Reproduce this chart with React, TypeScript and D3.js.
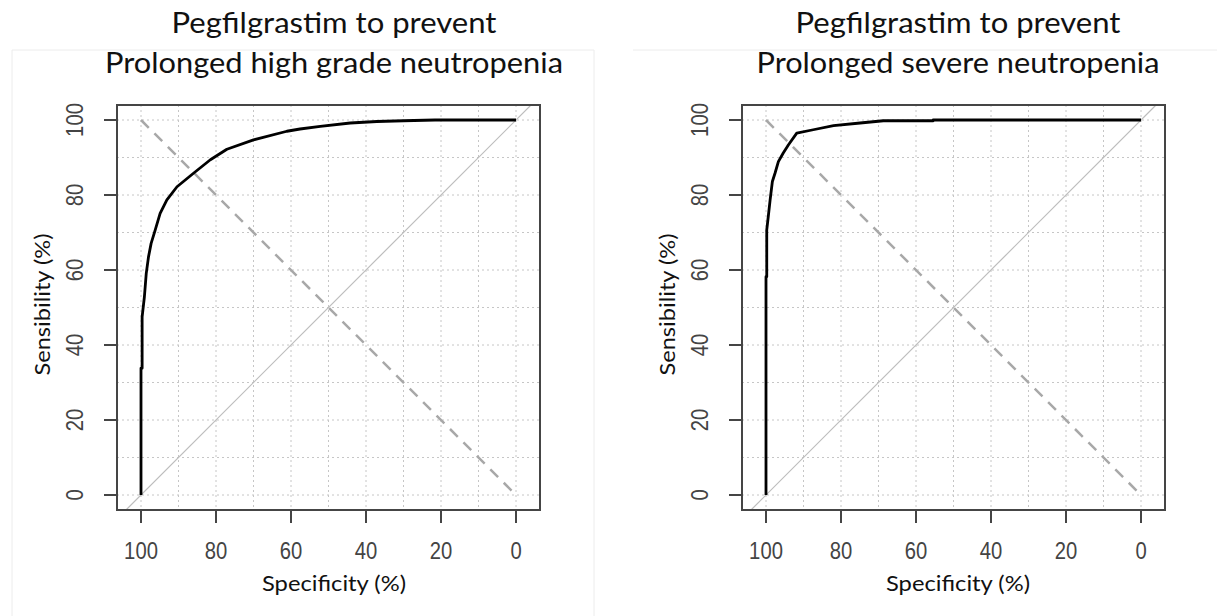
import React from "react";
import * as d3 from "d3";

// ---- data ----
const titleLine1 = ["Pegfilgrastim to prevent", "Pegfilgrastim to prevent"];
const titleLine2 = ["Prolonged high grade neutropenia", "Prolonged severe neutropenia"];

const specLeft = [100, 100, 99.7, 99.7, 99.1, 98.6, 98.0, 97.3, 96.2, 94.9, 93.1, 90.4, 86.0, 81.5, 77.1, 70.0, 61.1, 57.6, 52.2, 44.2, 37.1, 30.0, 21.6, 0];
const sensLeft = [0, 33.8, 33.8, 47.5, 52.8, 59.1, 63.5, 67.1, 70.7, 75.1, 78.7, 82.2, 85.8, 89.4, 92.2, 94.7, 97.0, 97.6, 98.3, 99.2, 99.6, 99.8, 100, 100];

const specRight = [100, 100, 99.8, 99.8, 99.4, 98.9, 98.3, 97.6, 96.7, 95.4, 94.0, 91.8, 87.4, 82.0, 74.9, 68.7, 55.4, 55.4, 0];
const sensRight = [0, 58.2, 58.2, 70.7, 74.2, 78.7, 83.6, 85.8, 88.9, 91.2, 93.4, 96.5, 97.4, 98.5, 99.2, 99.8, 99.8, 100, 100];

const tickValues = [0, 20, 40, 60, 80, 100];
const gridValues = [0, 10, 20, 30, 40, 50, 60, 70, 80, 90, 100];
const xLabel = "Specificity (%)";
const yLabel = "Sensibility (%)";

const W = 1217;
const H = 616;

type PanelProps = {
  left: number;
  spec: number[];
  sens: number[];
  t1: string;
  t2: string;
  t1Len: number;
  t2Len: number;
  textCx: number;
};

function Panel({ left, spec, sens, t1, t2, t1Len, t2Len, textCx }: PanelProps) {
  const boxW = 423;
  const x = d3.scaleLinear().domain([106.4, -6.4]).range([left, left + boxW]);
  const y = d3.scaleLinear().domain([-4, 104]).range([510, 105]);
  const [x0, x1] = x.range();
  const [y0, y1] = y.range();
  const pts: [number, number][] = spec.map((s, i) => [s, sens[i]]);
  const line = d3
    .line<[number, number]>()
    .x((d) => x(d[0]))
    .y((d) => y(d[1]));
  const yd = y.domain();
  const diag: [number, number][] = [
    [100 - yd[0], yd[0]],
    [100 - yd[1], yd[1]],
  ];
  const dashed: [number, number][] = [
    [100, 100],
    [0, 0],
  ];
  const clipId = `clip-${left}`;
  const axisColor = "#454545";
  const tickFont = "'Liberation Sans', Arial, sans-serif";
  return (
    <g>
      <defs>
        <clipPath id={clipId}>
          <rect x={x0} y={y1} width={x1 - x0} height={y0 - y1} />
        </clipPath>
      </defs>
      {/* titles */}
      <text
        x={textCx}
        y={33}
        textAnchor="middle"
        fontFamily="Lato, 'Open Sans', sans-serif"
        fontSize={29}
        fill="#111"
        textLength={t1Len}
        lengthAdjust="spacingAndGlyphs"
      >
        {t1}
      </text>
      <text
        x={textCx}
        y={73}
        textAnchor="middle"
        fontFamily="Lato, 'Open Sans', sans-serif"
        fontSize={29}
        fill="#111"
        textLength={t2Len}
        lengthAdjust="spacingAndGlyphs"
      >
        {t2}
      </text>
      {/* grid */}
      <g clipPath={`url(#${clipId})`}>
        {gridValues.map((g) => (
          <line
            key={`gx${g}`}
            x1={x(g)}
            x2={x(g)}
            y1={y1}
            y2={y0}
            stroke="#c6c6c6"
            strokeWidth={1}
            strokeDasharray="2,3"
          />
        ))}
        {gridValues.map((g) => (
          <line
            key={`gy${g}`}
            x1={x0}
            x2={x1}
            y1={y(g)}
            y2={y(g)}
            stroke="#c6c6c6"
            strokeWidth={1}
            strokeDasharray="2,3"
          />
        ))}
        <path d={line(diag) || ""} stroke="#bdbdbd" strokeWidth={1.2} fill="none" />
        <path
          d={line(dashed) || ""}
          stroke="#a8a8a8"
          strokeWidth={2.5}
          strokeDasharray="11,8"
          fill="none"
        />
        <path d={line(pts) || ""} stroke="#000" strokeWidth={2.8} fill="none" strokeLinejoin="round" />
      </g>
      {/* box */}
      <rect x={x0} y={y1} width={x1 - x0} height={y0 - y1} fill="none" stroke={axisColor} strokeWidth={2} />
      {/* y axis */}
      {tickValues.map((t) => (
        <g key={`yt${t}`}>
          <line x1={x0 - 13} x2={x0} y1={y(t)} y2={y(t)} stroke={axisColor} strokeWidth={2} />
          <text
            transform={`translate(${x0 - 34},${y(t)}) rotate(-90) scale(0.88,1)`}
            textAnchor="middle"
            fontFamily={tickFont}
            fontSize={23}
            fill="#444"
          >
            {t}
          </text>
        </g>
      ))}
      {/* x axis */}
      {tickValues.map((t) => (
        <g key={`xt${t}`}>
          <line x1={x(t)} x2={x(t)} y1={y0} y2={y0 + 13} stroke={axisColor} strokeWidth={2} />
          <text
            transform={`translate(${x(t)},559) scale(0.88,1)`}
            textAnchor="middle"
            fontFamily={tickFont}
            fontSize={23}
            fill="#444"
          >
            {t}
          </text>
        </g>
      ))}
      <text
        x={textCx}
        y={591}
        textAnchor="middle"
        fontFamily="Lato, 'Open Sans', sans-serif"
        fontSize={22}
        fill="#111"
        textLength={144}
        lengthAdjust="spacingAndGlyphs"
      >
        {xLabel}
      </text>
      <text
        transform={`translate(${x0 - 67},${(y0 + y1) / 2 - 3}) rotate(-90)`}
        textAnchor="middle"
        fontFamily="Lato, 'Open Sans', sans-serif"
        fontSize={22}
        fill="#111"
        textLength={142}
        lengthAdjust="spacingAndGlyphs"
      >
        {yLabel}
      </text>
    </g>
  );
}

export default function App() {
  return (
    <svg
      width={W}
      height={H}
      style={{ position: "absolute", left: 0, top: 0, background: "#fff" }}
    >
      <rect x={0} y={0} width={W} height={H} fill="#fff" />
      {/* faint frames of the pasted panels */}
      <line x1={12} x2={594} y1={50} y2={50} stroke="#ececec" strokeWidth={1} />
      <line x1={12} x2={12} y1={50} y2={H} stroke="#ececec" strokeWidth={1} />
      <line x1={594} x2={594} y1={50} y2={H} stroke="#ececec" strokeWidth={1} />
      <line x1={633} x2={W} y1={50} y2={50} stroke="#ececec" strokeWidth={1} />
      <Panel
        left={117}
        spec={specLeft}
        sens={sensLeft}
        t1={titleLine1[0]}
        t2={titleLine2[0]}
        t1Len={325}
        t2Len={458}
        textCx={334}
      />
      <Panel
        left={742}
        spec={specRight}
        sens={sensRight}
        t1={titleLine1[1]}
        t2={titleLine2[1]}
        t1Len={325}
        t2Len={403}
        textCx={958}
      />
    </svg>
  );
}
